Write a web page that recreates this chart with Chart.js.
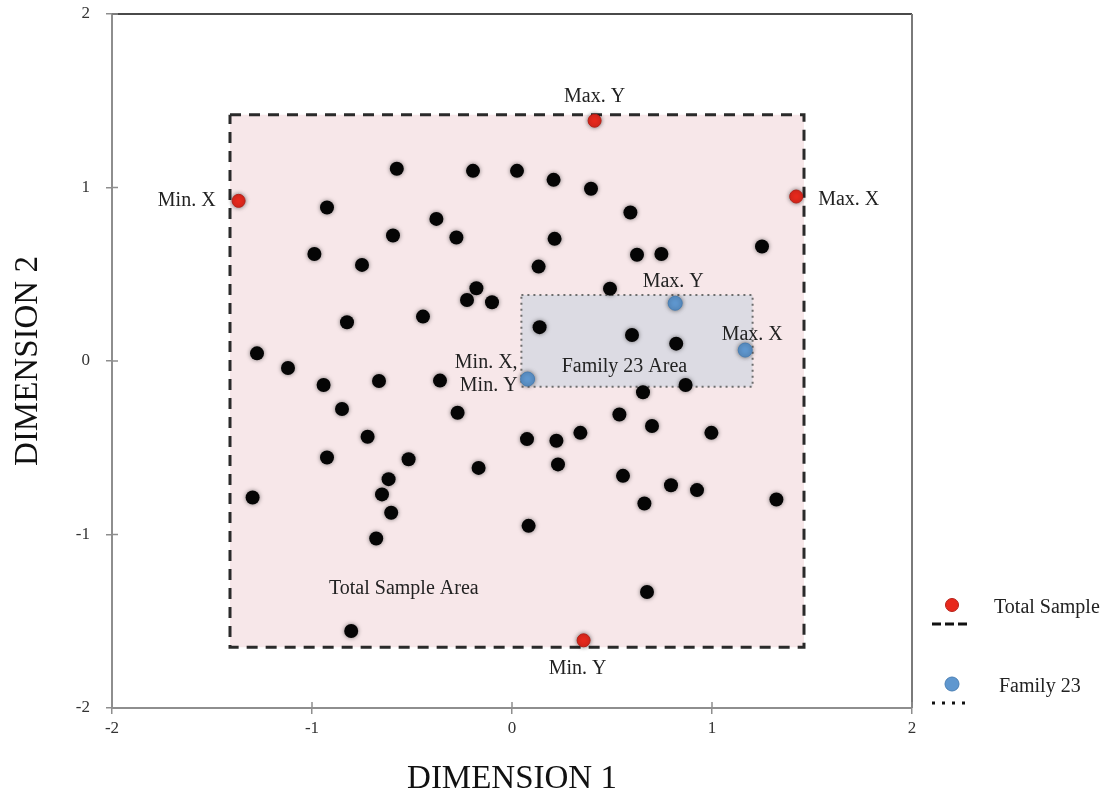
<!DOCTYPE html>
<html>
<head>
<meta charset="utf-8">
<script src="https://cdn.jsdelivr.net/npm/chart.js@4.4.0/dist/chart.umd.min.js"></script>
<style>
  html, body { margin: 0; padding: 0; background: #ffffff; }
  #wrap { width: 1107px; height: 799px; }
</style>
</head>
<body>
<div id="wrap"><canvas id="c" width="1107" height="799"></canvas></div>
<script>
// Sample positions on the two dimensions
const sampleX = [-0.576, -0.195, 0.025, -0.925, -0.378, -0.595, -0.278, -0.988, -0.750, -0.178,
                 -0.225, -0.100, -0.825, -0.445, -1.275, -1.120, -0.942, -0.665, -0.360, -0.850,
                 -0.272, -0.722, -0.925, -0.517, -0.167, -0.617, -0.650, -1.297, -0.604, -0.679,
                 -0.804, 0.208, 0.395, 0.592, 0.213, 0.625, 0.747, 1.250, 0.133, 0.490,
                 0.138, 0.600, 0.821, 0.868, 0.655, 0.537, 0.700, 0.997, 0.075, 0.222,
                 0.342, 0.230, 0.555, 0.795, 0.925, 0.662, 1.322, 0.083, 0.675];
const sampleY = [1.108, 1.096, 1.096, 0.885, 0.819, 0.723, 0.712, 0.617, 0.554, 0.419,
                 0.352, 0.339, 0.223, 0.256, 0.044, -0.040, -0.138, -0.115, -0.113, -0.277,
                 -0.298, -0.437, -0.556, -0.566, -0.616, -0.681, -0.769, -0.787, -0.875, -1.023,
                 -1.556, 1.044, 0.993, 0.856, 0.704, 0.612, 0.617, 0.660, 0.544, 0.417,
                 0.195, 0.150, 0.100, -0.138, -0.180, -0.308, -0.375, -0.414, -0.450, -0.460,
                 -0.414, -0.596, -0.662, -0.716, -0.744, -0.821, -0.798, -0.950, -1.331];

// Extremes of the total sample
const extremeX = [-1.367, 1.421, 0.413, 0.358];
const extremeY = [0.923, 0.948, 1.385, -1.610];
const extremeLabels = ['Min. X', 'Max. X', 'Max. Y', 'Min. Y'];

// Extremes of family 23
const familyX = [0.816, 1.166, 0.078];
const familyY = [0.333, 0.063, -0.104];
const familyLabels = ['Max. Y', 'Max. X', ['Min. X,', 'Min. Y']];

// Bounding areas [min, max]
const totalAreaX = [-1.41, 1.46];
const totalAreaY = [-1.65, 1.42];
const familyAreaX = [0.047, 1.203];
const familyAreaY = [-0.148, 0.381];

// Area captions and where they sit
const areaNames = ['Total Sample Area', 'Family 23 Area'];
const areaNameX = [-0.541, 0.562];
const areaNameY = [-1.310, -0.035];

const tickValues = [-2, -1, 0, 1, 2];
const axisTitles = ['DIMENSION 1', 'DIMENSION 2'];
const legendLabels = ['Total Sample', 'Family 23'];

const SERIF = '"Liberation Serif", "Times New Roman", serif';

function toPoints(xs, ys) { return xs.map((x, i) => ({ x, y: ys[i] })); }
function boxPoints(xr, yr) {
  return [
    { x: xr[0], y: yr[1] }, { x: xr[1], y: yr[1] },
    { x: xr[1], y: yr[0] }, { x: xr[0], y: yr[0] }, { x: xr[0], y: yr[1] }
  ];
}

// Label offsets (pixels) around each highlighted point
const extremeLabelStyle = [
  { dx: -23, dy: 0, align: 'right' },
  { dx: 22, dy: 3, align: 'left' },
  { dx: 0, dy: -24, align: 'center' },
  { dx: -6, dy: 28, align: 'center' }
];
const familyLabelStyle = [
  { dx: -2, dy: -21, align: 'center' },
  { dx: 7, dy: -15, align: 'center' },
  { dx: -10, dy: -16, align: 'right', lineGap: 23 }
];

// Soft shadow behind the sample dots
const dotShadow = {
  id: 'dotShadow',
  beforeDatasetDraw(chart, args) {
    if (args.meta.type === 'line') return;
    const ctx = chart.ctx;
    ctx.save();
    ctx.shadowColor = 'rgba(0,0,0,0.5)';
    ctx.shadowBlur = 4;
  },
  afterDatasetDraw(chart, args) {
    if (args.meta.type === 'line') return;
    chart.ctx.restore();
  }
};

// Frame of the plot, inner tick marks, text labels and legend
const decorations = {
  id: 'decorations',
  beforeDatasetsDraw(chart) {
    const { ctx, chartArea: a, scales: { x, y } } = chart;
    ctx.save();
    ctx.lineWidth = 2;
    ctx.strokeStyle = '#4a4a4a';
    ctx.beginPath(); ctx.moveTo(a.left, a.top); ctx.lineTo(a.right, a.top); ctx.stroke();
    ctx.strokeStyle = '#7a7a7a';
    ctx.beginPath(); ctx.moveTo(a.right, a.top); ctx.lineTo(a.right, a.bottom); ctx.stroke();
    ctx.strokeStyle = '#8e8e8e';
    ctx.lineWidth = 1.5;
    tickValues.forEach(v => {
      const px = x.getPixelForValue(v);
      ctx.beginPath(); ctx.moveTo(px, a.bottom); ctx.lineTo(px, a.bottom - 6); ctx.stroke();
      const py = y.getPixelForValue(v);
      ctx.beginPath(); ctx.moveTo(a.left, py); ctx.lineTo(a.left + 6, py); ctx.stroke();
    });
    ctx.restore();
  },
  afterDatasetsDraw(chart) {
    const { ctx, chartArea: a, scales: { x, y } } = chart;
    ctx.save();
    ctx.fillStyle = '#222';
    ctx.font = '20px ' + SERIF;
    ctx.textBaseline = 'middle';
    extremeLabels.forEach((t, i) => {
      const s = extremeLabelStyle[i];
      ctx.textAlign = s.align;
      ctx.fillText(t, x.getPixelForValue(extremeX[i]) + s.dx, y.getPixelForValue(extremeY[i]) + s.dy);
    });
    familyLabels.forEach((t, i) => {
      const s = familyLabelStyle[i];
      ctx.textAlign = s.align;
      const px = x.getPixelForValue(familyX[i]) + s.dx;
      const py = y.getPixelForValue(familyY[i]) + s.dy;
      if (Array.isArray(t)) {
        t.forEach((line, k) => ctx.fillText(line, px, py + k * s.lineGap));
      } else {
        ctx.fillText(t, px, py);
      }
    });
    ctx.textAlign = 'center';
    areaNames.forEach((t, i) => {
      ctx.fillText(t, x.getPixelForValue(areaNameX[i]), y.getPixelForValue(areaNameY[i]));
    });

    // legend
    const lx = a.right + 40;
    const rows = [a.bottom - 103, a.bottom - 24];
    const ds = chart.data.datasets;
    ctx.font = '20px ' + SERIF;
    ctx.textAlign = 'left';
    legendLabels.forEach((t, i) => {
      const ry = rows[i];
      const src = ds[i + 1];
      ctx.beginPath();
      ctx.arc(lx, ry, src.pointRadius, 0, Math.PI * 2);
      ctx.fillStyle = src.backgroundColor;
      ctx.fill();
      ctx.lineWidth = 1;
      ctx.strokeStyle = src.borderColor;
      ctx.stroke();
      ctx.beginPath();
      ctx.setLineDash(i === 0 ? [9, 4] : [3, 7]);
      ctx.lineWidth = 3;
      ctx.strokeStyle = '#111';
      ctx.moveTo(lx - 20, ry + 19); ctx.lineTo(lx + 19, ry + 19);
      ctx.stroke();
      ctx.setLineDash([]);
      ctx.fillStyle = '#222';
      ctx.fillText(t, lx + (i === 0 ? 42 : 47), ry + 3);
    });
    ctx.restore();
  }
};

new Chart(document.getElementById('c'), {
  type: 'scatter',
  data: {
    datasets: [
      {
        label: 'Samples',
        data: toPoints(sampleX, sampleY),
        backgroundColor: '#050505',
        borderColor: '#000',
        borderWidth: 0,
        pointRadius: 7,
        order: 1
      },
      {
        label: legendLabels[0],
        data: toPoints(extremeX, extremeY),
        backgroundColor: '#e8291d',
        borderColor: '#b52119',
        borderWidth: 1,
        pointRadius: 6.5,
        order: 0
      },
      {
        label: legendLabels[1],
        data: toPoints(familyX, familyY),
        backgroundColor: '#5f97cf',
        borderColor: '#4a7fb4',
        borderWidth: 1,
        pointRadius: 7,
        order: 0
      },
      {
        type: 'line',
        label: areaNames[0],
        data: boxPoints(totalAreaX, totalAreaY),
        borderColor: '#2a2a2a',
        borderWidth: 3,
        borderDash: [11, 8],
        backgroundColor: '#f7e7e9',
        fill: 'shape',
        pointRadius: 0,
        tension: 0,
        order: 3
      },
      {
        type: 'line',
        label: areaNames[1],
        data: boxPoints(familyAreaX, familyAreaY),
        borderColor: '#6d6d6d',
        borderWidth: 2,
        borderDash: [2, 4],
        backgroundColor: '#dcdbe3',
        fill: 'shape',
        pointRadius: 0,
        tension: 0,
        order: 2
      }
    ]
  },
  options: {
    responsive: false,
    animation: false,
    events: [],
    layout: { padding: { top: 14, right: 195, left: 0, bottom: 0 } },
    plugins: { legend: { display: false }, tooltip: { enabled: false } },
    scales: {
      x: {
        type: 'linear',
        min: -2, max: 2,
        afterFit(scale) { scale.height = 91; scale.paddingLeft = 0; scale.paddingRight = 0; },
        afterBuildTicks(scale) { scale.ticks = tickValues.map(v => ({ value: v })); },
        ticks: { color: '#333', font: { family: SERIF, size: 17 }, padding: 4 },
        grid: { display: true, drawOnChartArea: false, tickLength: 6, color: '#8e8e8e', lineWidth: 1.5 },
        border: { color: '#8e8e8e', width: 2 },
        title: { display: true, text: axisTitles[0], color: '#111', font: { family: SERIF, size: 33 }, padding: { top: 0, bottom: 0 } }
      },
      y: {
        type: 'linear',
        min: -2, max: 2,
        afterFit(scale) { scale.width = 112; scale.paddingTop = 0; scale.paddingBottom = 0; },
        afterBuildTicks(scale) { scale.ticks = tickValues.map(v => ({ value: v })); },
        ticks: { color: '#333', font: { family: SERIF, size: 17 }, padding: 16 },
        grid: { display: true, drawOnChartArea: false, tickLength: 6, color: '#8e8e8e', lineWidth: 1.5 },
        border: { color: '#8e8e8e', width: 2 },
        title: { display: true, text: axisTitles[1], color: '#111', font: { family: SERIF, size: 33 }, padding: { top: 9, bottom: 0 } }
      }
    }
  },
  plugins: [dotShadow, decorations]
});
</script>
</body>
</html>
